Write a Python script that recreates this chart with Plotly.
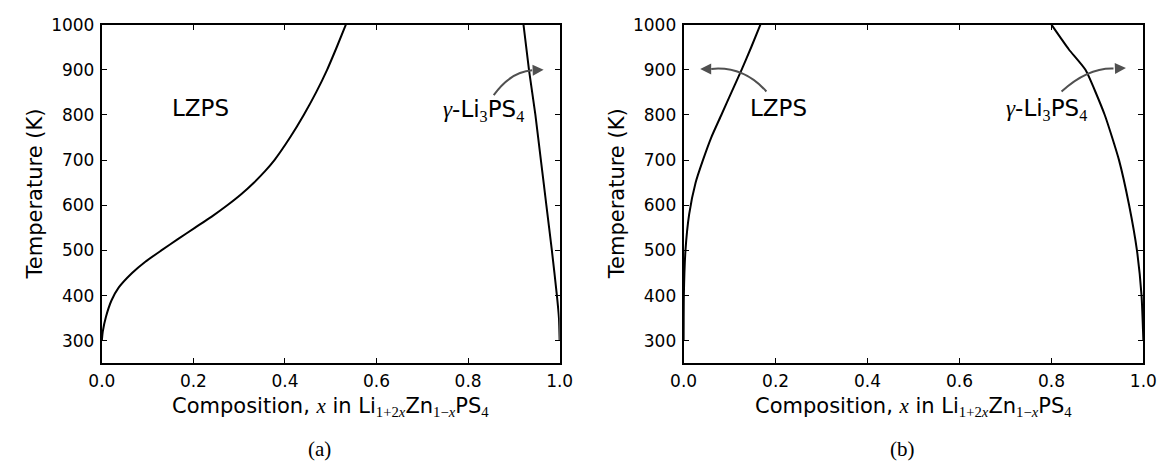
import plotly.graph_objects as go

# ---------------- data ----------------
# panel (a)
a_lzps_x = [0.0, 0.002, 0.009, 0.021, 0.037, 0.066, 0.095, 0.13, 0.166, 0.203, 0.24, 0.274, 0.305, 0.332, 0.356, 0.377, 0.411, 0.441, 0.468, 0.492, 0.513, 0.533]
a_lzps_T = [300, 320, 353, 389, 418, 450, 475, 500, 525, 550, 575, 600, 625, 650, 675, 700, 750, 800, 850, 900, 950, 1000]
a_gam_x = [1.0, 0.9985, 0.994, 0.983, 0.971, 0.959, 0.947, 0.933, 0.921]
a_gam_T = [300, 350, 400, 500, 600, 700, 800, 900, 1000]
# panel (b)
b_lzps_x = [0.0, 0.0005, 0.004, 0.012, 0.026, 0.042, 0.06, 0.082, 0.104, 0.126, 0.147, 0.167]
b_lzps_T = [300, 400, 500, 580, 650, 700, 750, 800, 850, 900, 950, 1000]
b_gam_x = [1.0, 0.996, 0.986, 0.969, 0.947, 0.916, 0.874, 0.838, 0.80]
b_gam_T = [300, 400, 500, 600, 700, 800, 900, 945, 1000]

x_ticks = [0.0, 0.2, 0.4, 0.6, 0.8, 1.0]
y_ticks = [300, 400, 500, 600, 700, 800, 900, 1000]

SERIF = "Liberation Serif"
SANS = "DejaVu Sans"

def m(s):
    return '<span style="font-family:%s">%s</span>' % (SERIF, s)

x_title = ("Composition, " + m("<i>x</i>") + " in Li<sub>" + m("1+2<i>x</i>") + "</sub>Zn<sub>"
           + m("1\u2212<i>x</i>") + "</sub>PS<sub>" + m("4") + "</sub>")
gam_label = m("<i>\u03b3</i>") + "-Li<sub>" + m("3") + "</sub>PS<sub>" + m("4") + "</sub>"

fig = go.Figure()
line = dict(color="black", width=2)
for xs, ys, xa, ya in ((a_lzps_x, a_lzps_T, "x", "y"), (a_gam_x, a_gam_T, "x", "y"),
                       (b_lzps_x, b_lzps_T, "x2", "y2"), (b_gam_x, b_gam_T, "x2", "y2")):
    fig.add_trace(go.Scatter(x=xs, y=ys, mode="lines", line=dict(line, shape="spline", smoothing=0.5),
                             xaxis=xa, yaxis=ya, showlegend=False, hoverinfo="skip"))

W, H = 1173, 468
dom_a = [90 / W, 559 / W]
dom_b = [686 / W, 1157 / W]
dom_y = [1 - 361 / H, 1 - 15 / H]

ax_common = dict(showline=True, linecolor="black", linewidth=2, mirror="allticks",
                 ticks="inside", ticklen=5, tickwidth=1.3, tickcolor="black",
                 showgrid=False, zeroline=False,
                 tickfont=dict(family=SANS, size=17, color="black"))

fig.update_layout(
    width=W, height=H, margin=dict(l=0, r=0, t=0, b=0),
    paper_bgcolor="white", plot_bgcolor="white",
    xaxis=dict(ax_common, domain=dom_a, range=[0, 1], tickvals=x_ticks, tickformat=".1f", anchor="y", ticklabelstandoff=1),
    yaxis=dict(ax_common, domain=dom_y, range=[250, 1000], tickvals=y_ticks, anchor="x", ticklabelstandoff=2),
    xaxis2=dict(ax_common, domain=dom_b, range=[0, 1], tickvals=x_ticks, tickformat=".1f", anchor="y2", ticklabelstandoff=1),
    yaxis2=dict(ax_common, domain=dom_y, range=[250, 1000], tickvals=y_ticks, anchor="x2", ticklabelstandoff=2),
)

ARROW = "#505050"
# curved arrows: body as quadratic path, head as short annotation arrow
arrows = [
    ("x", "y", (0.856, 844), (0.893, 896), (0.94, 899), (0.965, 900)),
    ("x2", "y2", (0.18, 852), (0.13, 909), (0.06, 902), (0.036, 902)),
    ("x2", "y2", (0.822, 852), (0.879, 905), (0.935, 903), (0.962, 904)),
]
for xr, yr, p0, c, p1, tip in arrows:
    fig.add_shape(type="path", xref=xr, yref=yr,
                  path="M %f,%f Q %f,%f %f,%f" % (p0[0], p0[1], c[0], c[1], p1[0], p1[1]),
                  line=dict(color=ARROW, width=2))
    fig.add_annotation(x=tip[0], y=tip[1], ax=p1[0], ay=p1[1], xref=xr, yref=yr,
                       axref=xr, ayref=yr, text="", showarrow=True,
                       arrowhead=2, arrowsize=1.1, arrowwidth=2, arrowcolor=ARROW, standoff=0)

lab = dict(family=SANS, size=23, color="black")
for x, y, xr, yr, t in ((0.215, 815, "x", "y", "LZPS"), (0.834, 811, "x", "y", gam_label),
                        (0.207, 815, "x2", "y2", "LZPS"), (0.79, 812, "x2", "y2", gam_label)):
    fig.add_annotation(x=x, y=y, xref=xr, yref=yr, text=t, showarrow=False, font=lab,
                       xanchor="center", yanchor="middle")

# axis titles and captions
tfont = dict(family=SANS, size=21, color="black")
for dom, cap in ((dom_a, "(a)"), (dom_b, "(b)")):
    cx = (dom[0] + dom[1]) / 2
    fig.add_annotation(x=cx, y=1 - 406 / H, xref="paper", yref="paper", text=x_title,
                       showarrow=False, font=tfont, xanchor="center", yanchor="middle")
    fig.add_annotation(x=dom[0] - 68 / W, y=(dom_y[0] + dom_y[1]) / 2, xref="paper", yref="paper",
                       text="Temperature (K)", textangle=-90, showarrow=False, font=tfont,
                       xanchor="center", yanchor="middle")
    fig.add_annotation(x=cx - 0.01, y=1 - 449 / H, xref="paper", yref="paper", text=cap,
                       showarrow=False, font=dict(family=SERIF, size=21, color="black"),
                       xanchor="center", yanchor="middle")

fig.write_html("out.html")
